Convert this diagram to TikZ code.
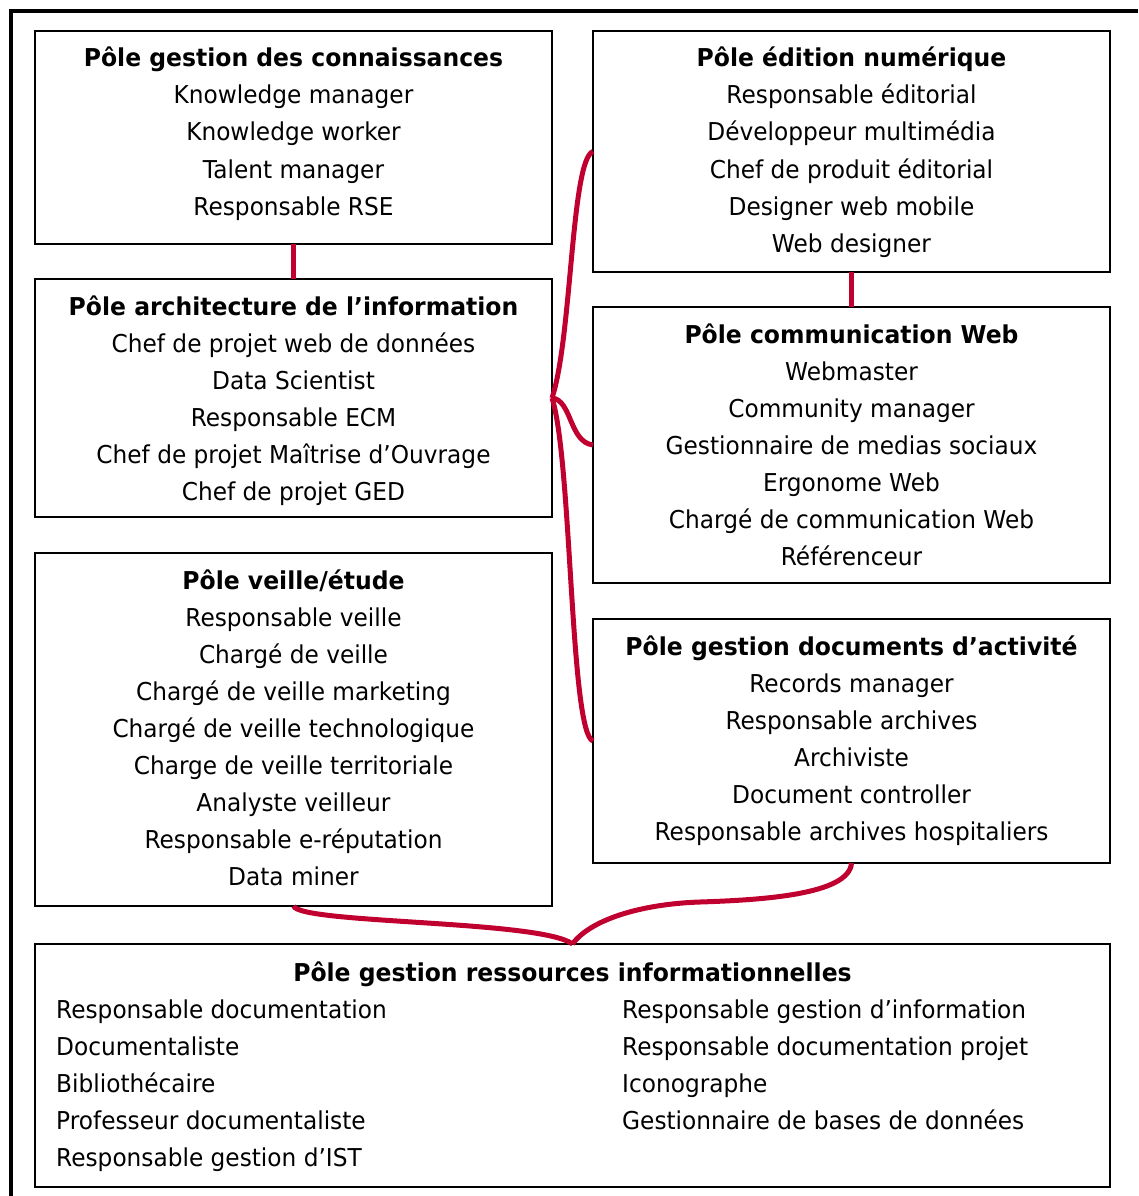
\documentclass[tikz,border=0pt]{standalone}
\usepackage{fontspec}
\newfontfamily\polefont{DejaVu Sans}[FakeStretch=0.945]
\newfontfamily\poletitlefont{DejaVu Sans}[FakeStretch=0.955]
\definecolor{linkred}{RGB}{192,0,47}
\begin{document}
\begin{tikzpicture}[x=1pt,y=-1pt,
  pbox/.style={draw=black, line width=1.5pt, rectangle, outer sep=0pt, inner sep=0pt},
  ln/.style={anchor=base, inner sep=0pt, font=\polefont\fontsize{24.6}{30}\selectfont},
  lnw/.style={ln, anchor=base west},
  hd/.style={anchor=base, inner sep=0pt, font=\poletitlefont\bfseries\fontsize{24.6}{30}\selectfont},
  link/.style={draw=linkred, line width=5pt}]
\useasboundingbox (0,0) rectangle (1138,1196);

% outer frame (top and left edges only)
\draw[line width=3.5pt] (11,1196) -- (11,11) -- (1138,11);

% boxes
\node[pbox, minimum width=517pt, minimum height=213pt] (b1) at (293.5,137.5) {};
\node[pbox, minimum width=517pt, minimum height=241pt] (b2) at (851.5,151.5) {};
\node[pbox, minimum width=517pt, minimum height=238pt] (b3) at (293.5,398) {};
\node[pbox, minimum width=517pt, minimum height=276pt] (b4) at (851.5,445) {};
\node[pbox, minimum width=517pt, minimum height=353pt] (b5) at (293.5,729.5) {};
\node[pbox, minimum width=517pt, minimum height=244pt] (b6) at (851.5,741) {};
\node[pbox, minimum width=1075pt, minimum height=243pt] (b7) at (572.5,1065.5) {};

% Pôle gestion des connaissances
\node[hd] (b1t) at (293.5,67) {Pôle gestion des connaissances};
\foreach \t [count=\i] in {Knowledge manager, Knowledge worker, Talent manager, Responsable RSE}
  \node[ln] (b1r\i) at (293.5,67+37*\i) {\t};

% Pôle édition numérique
\node[hd] (b2t) at (851.5,67) {Pôle édition numérique};
\foreach \t [count=\i] in {Responsable éditorial, Développeur multimédia, Chef de produit éditorial, Designer web mobile, Web designer}
  \node[ln] (b2r\i) at (851.5,67+37*\i) {\t};

% Pôle architecture de l'information
\node[hd] (b3t) at (293.5,315) {Pôle architecture de l’information};
\foreach \t [count=\i] in {Chef de projet web de données, Data Scientist, Responsable ECM, Chef de projet Maîtrise d’Ouvrage, Chef de projet GED}
  \node[ln] (b3r\i) at (293.5,315+37*\i) {\t};

% Pôle communication Web
\node[hd] (b4t) at (851.5,343) {Pôle communication Web};
\foreach \t [count=\i] in {Webmaster, Community manager, Gestionnaire de medias sociaux, Ergonome Web, Chargé de communication Web, Référenceur}
  \node[ln] (b4r\i) at (851.5,343+37*\i) {\t};

% Pôle veille/étude
\node[hd] (b5t) at (293.5,589) {Pôle veille/étude};
\foreach \t [count=\i] in {Responsable veille, Chargé de veille, Chargé de veille marketing, Chargé de veille technologique, Charge de veille territoriale, Analyste veilleur, Responsable e-réputation, Data miner}
  \node[ln] (b5r\i) at (293.5,589+37*\i) {\t};

% Pôle gestion documents d'activité
\node[hd] (b6t) at (851.5,655) {Pôle gestion documents d’activité};
\foreach \t [count=\i] in {Records manager, Responsable archives, Archiviste, Document controller, Responsable archives hospitaliers}
  \node[ln] (b6r\i) at (851.5,655+37*\i) {\t};

% Pôle gestion ressources informationnelles (two columns)
\node[hd] (b7t) at (572.5,981) {Pôle gestion ressources informationnelles};
\foreach \t [count=\i] in {Responsable documentation, Documentaliste, Bibliothécaire, Professeur documentaliste, Responsable gestion d’IST}
  \node[lnw] (b7a\i) at (56,981+37*\i) {\t};
\foreach \t [count=\i] in {Responsable gestion d’information, Responsable documentation projet, Iconographe, Gestionnaire de bases de données}
  \node[lnw] (b7b\i) at (622,981+37*\i) {\t};

% connectors
\draw[link] (b1.south) -- (b3.north);
\draw[link] (b2.south) -- (b4.north);
\draw[link] (b3.east) .. controls +(20,-60) and +(-22,8) .. (b2.west);
\draw[link] (b3.east) .. controls +(20,2) and +(-24,-3) .. (b4.west);
\draw[link] (b3.east) .. controls +(20,62) and +(-23,-8) .. (b6.west);
\draw[link] (b5.south) .. controls +(7,18) and +(-32,-24) .. (b7.north);
\draw[link] (b6.south) .. controls +(-2,32) and (760,900) .. (700,902)
  .. controls (640,904) and (590,920) .. (b7.north);
\end{tikzpicture}
\end{document}
